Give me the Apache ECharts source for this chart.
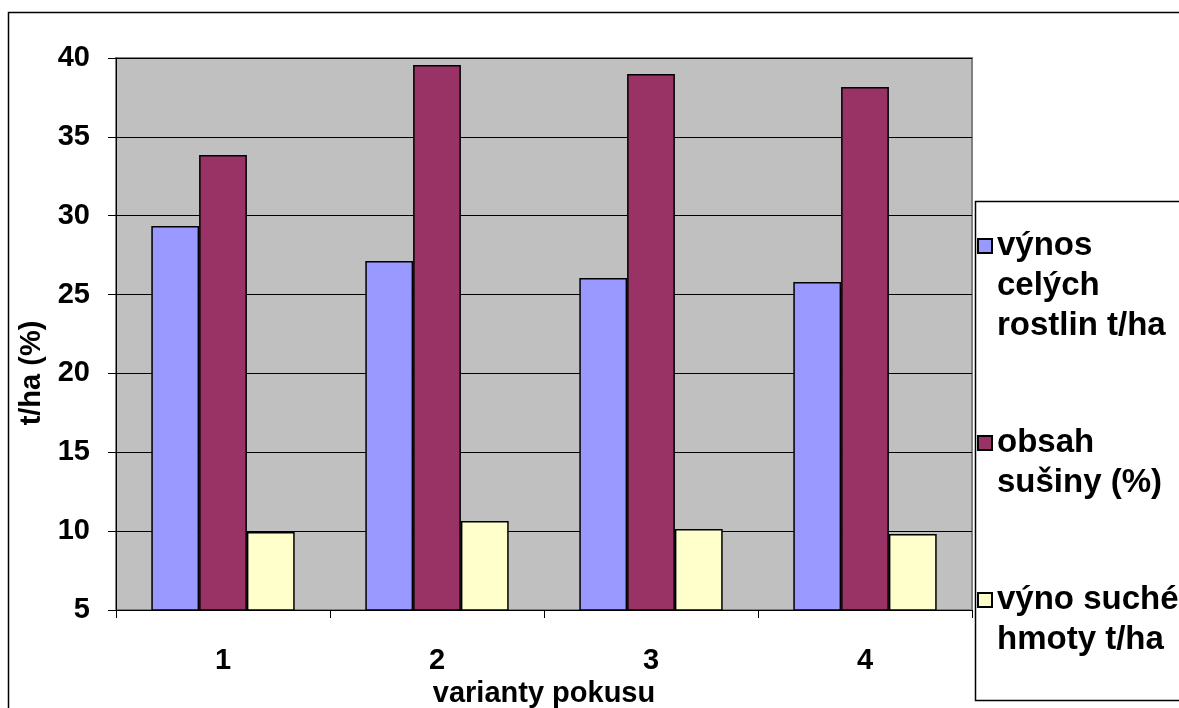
<!DOCTYPE html>
<html><head><meta charset="utf-8">
<script src="https://cdn.jsdelivr.net/npm/echarts@6/dist/echarts.min.js"></script>
<style>html,body{margin:0;padding:0;background:#fff}#c{width:1179px;height:708px}</style>
</head><body><div id="c"></div>
<script>
const categories = ['1', '2', '3', '4'];
const seriesNames = ['výnos celých rostlin t/ha', 'obsah sušiny (%)', 'výno suché hmoty t/ha'];
const legendLines = [['výnos', 'celých', 'rostlin t/ha'], ['obsah', 'sušiny (%)'], ['výno suché', 'hmoty t/ha']];
const vynosCelych = [29.35, 27.13, 26.05, 25.8];
const obsahSusiny = [33.85, 39.56, 38.99, 38.16];
const vynoSuche = [9.94, 10.64, 10.13, 9.82];
const colors = ['#9999FF', '#993366', '#FFFFCC'];
const yTicks = { min: 5, max: 40, interval: 5 };

const FONT = 'Liberation Sans, Arial, sans-serif';
const chart = echarts.init(document.getElementById('c'));
const values = [vynosCelych, obsahSusiny, vynoSuche];
const legendMap = {};
seriesNames.forEach((n, i) => {
  const lines = legendLines[i];
  legendMap[n] = '\n'.repeat(lines.length - 1) + lines.join('\n');
});
chart.setOption({
  animation: false,
  backgroundColor: '#fff',
  grid: { left: 116, top: 58, right: 207, bottom: 98, outerBoundsMode: 'none', containLabel: false,
          show: true, backgroundColor: '#C0C0C0', borderColor: '#808080', borderWidth: 2 },
  legend: {
    orient: 'vertical', left: 977, top: 146, padding: 0, itemGap: 37,
    itemWidth: 14, itemHeight: 14, icon: 'rect',
    formatter: n => legendMap[n],
    textStyle: { fontFamily: FONT, fontWeight: 'bold', fontSize: 33, lineHeight: 40, color: '#000' },
    data: seriesNames
  },
  xAxis: {
    type: 'category', data: categories,
    name: 'varianty pokusu', nameLocation: 'middle', nameGap: 65,
    nameTextStyle: { fontFamily: FONT, fontWeight: 'bold', fontSize: 29, color: '#000' },
    axisLine: { lineStyle: { color: '#000', width: 1 } },
    axisTick: { show: true, length: 8, lineStyle: { color: '#000' } },
    axisLabel: { margin: 36, fontFamily: FONT, fontWeight: 'bold', fontSize: 29, color: '#000' },
    splitLine: { show: false }
  },
  yAxis: {
    type: 'value', min: yTicks.min, max: yTicks.max, interval: yTicks.interval,
    name: 't/ha (%)', nameLocation: 'middle', nameGap: 62,
    nameTextStyle: { fontFamily: FONT, fontWeight: 'bold', fontSize: 29, color: '#000', padding: [0, 78, 0, 0] },
    axisLine: { show: true, lineStyle: { color: '#000', width: 1 } },
    axisTick: { show: true, length: 8, lineStyle: { color: '#000' } },
    axisLabel: { margin: 26, fontFamily: FONT, fontWeight: 'bold', fontSize: 29, color: '#000' },
    splitLine: { show: true, lineStyle: { color: '#000', width: 1 } }
  },
  series: seriesNames.map((n, i) => ({
    name: n, type: 'bar', data: values[i], barGap: '0%', barCategoryGap: '33%',
    itemStyle: { color: colors[i], borderColor: '#000', borderWidth: 1.5 }
  })),
  graphic: [
    { type: 'rect', shape: { x: 8.5, y: 12.5, width: 1200, height: 720 }, style: { fill: 'none', stroke: '#000', lineWidth: 1.5 }, z: -1 },
    { type: 'rect', shape: { x: 975.5, y: 201.5, width: 220, height: 499 }, style: { fill: '#fff', stroke: '#000', lineWidth: 1.5 }, z: 0 }
  ]
});
</script></body></html>
